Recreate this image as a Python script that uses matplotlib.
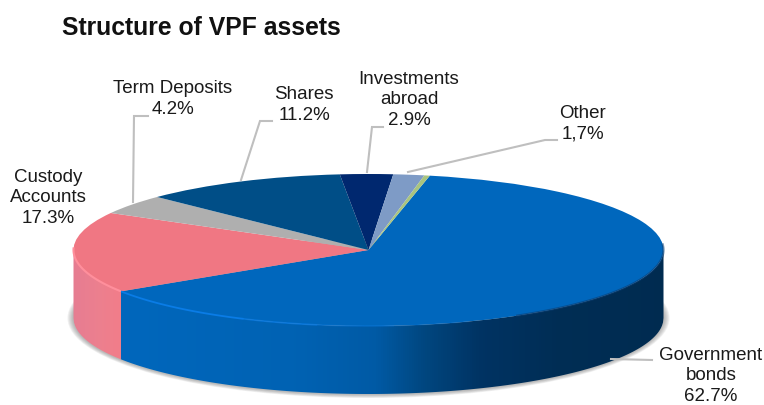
# Structure of VPF assets, tilted pie
import numpy as np
import matplotlib
matplotlib.use("Agg")
import matplotlib.pyplot as plt
from matplotlib.collections import PolyCollection
from matplotlib.colors import LinearSegmentedColormap
from matplotlib.patches import Ellipse

plt.rcParams['font.family'] = ['Liberation Sans', 'DejaVu Sans']

# green sliver has no label in the picture, value is a guess
slices = ['Government bonds', 'Custody Accounts', 'Term Deposits', 'Shares',
          'Investments abroad', 'Other', 'sliver']
values = [62.7, 17.3, 4.2, 11.2, 2.9, 1.7, 0.3]
colors = ['#0067BD', '#F07783', '#AFAFAF', '#004E87', '#00286F', '#7E9BC6', '#A9C47F']
start_clock = 12.0   # degrees clockwise from 12 o'clock

W, H = 764, 406
cx, cy, rx, ry = 368.5, 251, 295, 76
depth = 68

fig = plt.figure(figsize=(W / 100, H / 100), dpi=100)
ax = fig.add_axes([0, 0, 1, 1])
ax.set_xlim(0, W)
ax.set_ylim(H, 0)
ax.axis('off')

# soft shadow under the disc
for i in range(6):
    ax.add_patch(Ellipse((cx, cy + depth), 2 * (rx + 6 - i), 2 * (ry + 4 - i * 0.6),
                         fc='#606060', ec='none', alpha=0.09, zorder=1))

# where each slice ends, clockwise from the top
ends = start_clock + 360 * np.cumsum(values) / np.sum(values)


def gradient(a0, a1, stops):
    # side wall as one pixel wide strips, coloured by their x position
    x0, x1 = stops[0][0], stops[-1][0]
    cmap = LinearSegmentedColormap.from_list('g', [((s - x0) / (x1 - x0), c) for s, c in stops])
    xa = cx + rx * np.sin(np.radians(a0))
    xb = cx + rx * np.sin(np.radians(a1))
    lo, hi = min(xa, xb), max(xa, xb)
    x = np.unique(np.r_[lo, np.arange(np.ceil(lo), np.floor(hi) + 1), hi])
    y = cy + ry * np.sqrt(np.clip(1 - ((x - cx) / rx) ** 2, 0, 1))
    quads = [[(x[i], y[i]), (x[i + 1], y[i + 1]), (x[i + 1], y[i + 1] + depth), (x[i], y[i] + depth)]
             for i in range(len(x) - 1)]
    fc = cmap(((x[:-1] + x[1:]) / 2 - x0) / (x1 - x0))
    ax.add_collection(PolyCollection(quads, facecolors=fc, edgecolors='none', zorder=2))


# side wall: blue part, then pink part
gradient(90, ends[0], [(100, '#0067BD'), (290, '#0062B3'), (375, '#005AA5'), (425, '#00467F'),
                       (480, '#003363'), (560, '#002D54'), (670, '#002B50')])
gradient(ends[0], 270, [(70, '#E57C92'), (100, '#EC7F8E'), (125, '#F27C88')])

# top face: a pie squeezed into the ellipse box
pie_ax = fig.add_axes([(cx - rx) / W, 1 - (cy + ry) / H, 2 * rx / W, 2 * ry / H], zorder=2)
pie_ax.pie(values, colors=colors, startangle=90 - start_clock, counterclock=False, radius=1,
           wedgeprops={'linewidth': 0})
pie_ax.set_aspect('auto')
pie_ax.set_xlim(-1, 1)
pie_ax.set_ylim(-1, 1)
pie_ax.patch.set_alpha(0)

# overlay for rim highlight, leaders and text
top = fig.add_axes([0, 0, 1, 1], zorder=3)
top.set_xlim(0, W)
top.set_ylim(H, 0)
top.axis('off')


def rim(a0, a1, color, lw, alpha=1.0):
    t = np.radians(np.linspace(a0, a1, 100))
    top.plot(cx + rx * np.sin(t), cy - ry * np.cos(t), color=color, lw=lw, alpha=alpha,
             solid_capstyle='butt')


# highlight fades out toward the middle of the front edge
rim(ends[0], 205, '#0A7CE6', 1.3)
rim(205, 190, '#0A7CE6', 1.2, 0.7)
rim(190, 175, '#0A7CE6', 1.1, 0.4)
rim(175, 160, '#0A7CE6', 1.0, 0.2)
rim(150, 85, '#0A3C70', 1.6, 0.55)
rim(ends[0], 272, '#FF8F9C', 1.5)

leaders = [
    ([133, 134, 148], [203, 117, 117]),
    ([241, 260, 272], [181, 122, 122]),
    ([367, 372, 383], [173, 128, 128]),
    ([408, 545, 557], [173, 141, 141]),
    ([611, 652], [360, 361]),
]
for lx, ly in leaders:
    top.plot(lx, ly, color='#BFBFBF', lw=1.5, solid_joinstyle='miter')

labels = ['Custody\nAccounts\n17.3%', 'Term Deposits\n4.2%', 'Shares\n11.2%',
          'Investments\nabroad\n2.9%', 'Other\n1,7%', 'Government\nbonds\n62.7%']
label_pos = [(48, 198), (173, 99), (304, 105), (409, 100), (583, 124), (711, 376)]
for txt, (lx, ly) in zip(labels, label_pos):
    top.text(lx, ly, txt, ha='center', va='center', fontsize=13.5, color='#1a1a1a', linespacing=1.3)

top.text(62, 28, 'Structure of VPF assets', fontsize=17.8, fontweight='bold', color='#111111',
         va='center', ha='left')

fig.savefig('out.png', dpi=100)
